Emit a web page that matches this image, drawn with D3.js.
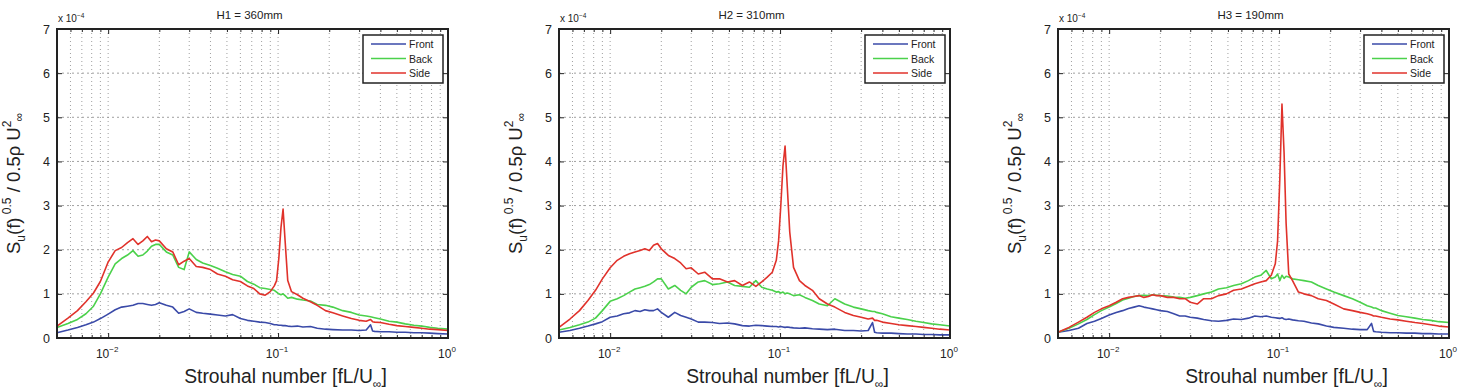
<!DOCTYPE html>
<html>
<head>
<meta charset="utf-8">
<script src="https://cdn.jsdelivr.net/npm/d3@7"></script>
<style>
body { margin: 0; background: #fff; }
text { font-family: "Liberation Sans", Arial, sans-serif; fill: #222; }
</style>
</head>
<body>
<div id="chart"></div>
<script>
// Strouhal number grid shared by all three panels
var strouhal = [0.005, 0.0058, 0.0066, 0.0074, 0.0082, 0.009, 0.01, 0.011, 0.012, 0.013,
    0.014, 0.015, 0.016, 0.017, 0.018, 0.019, 0.02, 0.022, 0.024, 0.026,
    0.028, 0.03, 0.033, 0.036, 0.04, 0.044, 0.049, 0.054, 0.06, 0.066,
    0.072, 0.078, 0.084, 0.09, 0.095, 0.098, 0.101, 0.104, 0.107, 0.110,
    0.114, 0.12, 0.13, 0.14, 0.155, 0.17, 0.19, 0.21, 0.24, 0.27,
    0.3, 0.33, 0.35, 0.36, 0.37, 0.4, 0.45, 0.5, 0.56, 0.63,
    0.7, 0.78, 0.87, 1.0];

// values in units of 1e-4
var h1Front = [0.12, 0.18, 0.24, 0.3, 0.36, 0.44, 0.54, 0.64, 0.7, 0.72,
    0.74, 0.78, 0.78, 0.76, 0.74, 0.76, 0.8, 0.74, 0.7, 0.56,
    0.6, 0.66, 0.58, 0.56, 0.54, 0.52, 0.5, 0.53, 0.44, 0.4,
    0.38, 0.36, 0.35, 0.33, 0.3, 0.3, 0.29, 0.29, 0.28, 0.28,
    0.27, 0.26, 0.27, 0.25, 0.26, 0.22, 0.2, 0.19, 0.18, 0.18,
    0.17, 0.18, 0.3, 0.16, 0.15, 0.14, 0.14, 0.13, 0.13, 0.12,
    0.12, 0.11, 0.1, 0.09];
var h1Back = [0.24, 0.33, 0.42, 0.55, 0.72, 1.0, 1.38, 1.68, 1.8, 1.88,
    1.98, 1.85, 1.88, 1.97, 2.08, 2.12, 2.12, 1.95, 1.88, 1.6,
    1.55, 1.95, 1.78, 1.7, 1.64, 1.58, 1.5, 1.44, 1.4, 1.28,
    1.22, 1.14, 1.12, 1.1, 1.08, 1.04, 1.0, 0.98, 1.0, 0.96,
    0.9, 0.92, 0.88, 0.86, 0.84, 0.76, 0.74, 0.7, 0.62, 0.58,
    0.52, 0.5, 0.48, 0.47, 0.46, 0.43, 0.38, 0.36, 0.32, 0.29,
    0.27, 0.24, 0.22, 0.2];
var h1Side = [0.27, 0.45, 0.62, 0.82, 1.02, 1.28, 1.72, 1.98, 2.05, 2.16,
    2.25, 2.12, 2.2, 2.3, 2.18, 2.22, 2.2, 2.02, 1.95, 1.66,
    1.74, 1.8, 1.62, 1.6, 1.55, 1.45, 1.4, 1.32, 1.28, 1.18,
    1.12, 1.0, 0.97, 1.05, 1.18, 1.3, 1.8, 2.5, 2.92, 2.2,
    1.3, 1.05, 0.98, 0.9, 0.82, 0.74, 0.62, 0.57, 0.5, 0.44,
    0.4, 0.38, 0.42, 0.37, 0.36, 0.35, 0.31, 0.28, 0.26, 0.24,
    0.22, 0.2, 0.19, 0.17];

var h2Front = [0.13, 0.17, 0.22, 0.27, 0.32, 0.37, 0.47, 0.5, 0.55, 0.57,
    0.62, 0.6, 0.64, 0.62, 0.62, 0.66, 0.58, 0.47, 0.58, 0.51,
    0.47, 0.43, 0.36, 0.36, 0.35, 0.33, 0.34, 0.32, 0.28, 0.27,
    0.29, 0.28, 0.27, 0.26, 0.26, 0.25, 0.26, 0.25, 0.24, 0.25,
    0.24, 0.23, 0.22, 0.23, 0.21, 0.2, 0.19, 0.2, 0.17, 0.17,
    0.16, 0.17, 0.35, 0.13, 0.12, 0.11, 0.11, 0.1, 0.09, 0.09,
    0.08, 0.08, 0.07, 0.07];
var h2Back = [0.18, 0.24, 0.3, 0.36, 0.45, 0.62, 0.83, 0.89, 0.96, 1.04,
    1.11, 1.14, 1.17, 1.21, 1.27, 1.34, 1.34, 1.11, 1.19, 1.08,
    1.0, 1.15, 1.27, 1.3, 1.21, 1.23, 1.27, 1.19, 1.17, 1.15,
    1.3, 1.15, 1.11, 1.08, 1.04, 1.05, 1.02, 1.04, 1.0, 1.02,
    1.0, 0.96, 0.98, 0.92, 0.85, 0.77, 0.73, 0.89, 0.77, 0.7,
    0.66, 0.62, 0.6, 0.6, 0.58, 0.55, 0.48, 0.45, 0.42, 0.38,
    0.35, 0.32, 0.3, 0.27];
var h2Side = [0.24, 0.43, 0.62, 0.85, 1.08, 1.34, 1.59, 1.76, 1.85, 1.91,
    1.95, 1.98, 2.02, 1.98, 2.1, 2.14, 2.02, 1.87, 1.8, 1.7,
    1.57, 1.59, 1.45, 1.49, 1.34, 1.34, 1.27, 1.3, 1.19, 1.27,
    1.17, 1.27, 1.38, 1.49, 1.76, 2.2, 3.0, 3.9, 4.35, 3.5,
    2.4, 1.6, 1.3, 1.19, 1.08, 0.89, 0.77, 0.7, 0.58, 0.51,
    0.47, 0.43, 0.45, 0.4, 0.4, 0.36, 0.33, 0.3, 0.28, 0.26,
    0.24, 0.22, 0.2, 0.18];

var h3Front = [0.13, 0.17, 0.22, 0.33, 0.38, 0.44, 0.52, 0.58, 0.62, 0.67,
    0.7, 0.73, 0.7, 0.68, 0.66, 0.64, 0.62, 0.6, 0.55, 0.5,
    0.5, 0.47, 0.45, 0.42, 0.39, 0.38, 0.4, 0.43, 0.42, 0.45,
    0.5, 0.48, 0.5, 0.47, 0.46, 0.45, 0.44, 0.46, 0.43, 0.42,
    0.43, 0.41, 0.39, 0.38, 0.34, 0.32, 0.27, 0.24, 0.22, 0.2,
    0.19, 0.19, 0.33, 0.15, 0.14, 0.13, 0.12, 0.12, 0.11, 0.11,
    0.1, 0.1, 0.09, 0.09];
var h3Back = [0.13, 0.22, 0.32, 0.42, 0.53, 0.62, 0.7, 0.78, 0.86, 0.9,
    0.94, 0.96, 0.97, 0.96, 0.98, 0.97, 0.96, 0.95, 0.93, 0.92,
    0.9, 0.92, 0.96, 1.0, 1.04, 1.11, 1.14, 1.19, 1.23, 1.3,
    1.38, 1.42, 1.53, 1.34, 1.38, 1.45, 1.3, 1.42, 1.35, 1.4,
    1.38, 1.34, 1.32, 1.3, 1.27, 1.19, 1.11, 1.04, 0.96, 0.89,
    0.81, 0.73, 0.7, 0.68, 0.68, 0.62, 0.56, 0.51, 0.48, 0.45,
    0.42, 0.4, 0.37, 0.35];
var h3Side = [0.13, 0.24, 0.36, 0.47, 0.58, 0.66, 0.73, 0.81, 0.89, 0.92,
    0.94, 0.96, 0.92, 0.94, 0.98, 0.96, 0.96, 0.92, 0.92, 0.89,
    0.89, 0.81, 0.77, 0.89, 0.89, 0.96, 1.0, 1.08, 1.11, 1.17,
    1.23, 1.27, 1.3, 1.42, 1.68, 2.2, 3.6, 5.3, 4.2, 2.6,
    1.45, 1.3, 1.04, 1.0, 0.96, 0.89, 0.85, 0.77, 0.66, 0.62,
    0.58, 0.55, 0.52, 0.5, 0.5, 0.47, 0.43, 0.41, 0.38, 0.35,
    0.33, 0.3, 0.27, 0.25];

var titles = ["H1 = 360mm", "H2 = 310mm", "H3 = 190mm"];
var seriesNames = ["Front", "Back", "Side"];
var colors = ["#3a4aa8", "#4bd14b", "#e0322b"];
var panels = [
    [h1Front, h1Back, h1Side],
    [h2Front, h2Back, h2Side],
    [h3Front, h3Back, h3Side]
];
var yTicks = [0, 1, 2, 3, 4, 5, 6, 7];
var xMajor = [0.01, 0.1, 1];
var xExp = ["\u22122", "\u22121", "0"];

var W = 1462, H = 391;
var panelLeft = [57, 559, 1058];
var pw = 391, ph = 309, marginTop = 29;

var svg = d3.select("#chart").append("svg")
    .attr("width", W)
    .attr("height", H);

var xMinor = [];
[0.001, 0.01, 0.1].forEach(function(d) {
    for (var k = 2; k <= 9; k++) {
        var v = d * k;
        if (v >= 0.005 && v < 1) xMinor.push(v);
    }
});

panels.forEach(function(series, p) {
    var x = d3.scaleLog().domain([0.005, 1]).range([0, pw]);
    var y = d3.scaleLinear().domain([0, 7]).range([ph, 0]);

    var g = svg.append("g")
        .attr("transform", "translate(" + panelLeft[p] + "," + marginTop + ")");

    // grid
    g.append("g").selectAll("line")
        .data(xMinor.concat([0.01, 0.1]))
        .enter().append("line")
        .attr("x1", function(d) { return x(d); })
        .attr("x2", function(d) { return x(d); })
        .attr("y1", 0).attr("y2", ph)
        .attr("stroke", "#888")
        .attr("stroke-width", 0.8)
        .attr("stroke-dasharray", "1,3");

    g.append("g").selectAll("line")
        .data([1, 2, 3, 4, 5, 6])
        .enter().append("line")
        .attr("x1", 0).attr("x2", pw)
        .attr("y1", function(d) { return y(d); })
        .attr("y2", function(d) { return y(d); })
        .attr("stroke", "#888")
        .attr("stroke-width", 0.8)
        .attr("stroke-dasharray", "2,3");

    // data lines
    var line = d3.line()
        .x(function(d, i) { return x(strouhal[i]); })
        .y(function(d) { return y(d); });

    g.selectAll(".series")
        .data(series)
        .enter().append("path")
        .attr("class", "series")
        .attr("d", line)
        .attr("fill", "none")
        .attr("stroke", function(d, i) { return colors[i]; })
        .attr("stroke-width", 1.6)
        .attr("stroke-linejoin", "round");

    // axes with inward ticks on all four sides
    var axes = [
        ["translate(0," + ph + ")", d3.axisBottom(x).tickValues(xMajor).tickSize(-5)],
        ["translate(0," + ph + ")", d3.axisBottom(x).tickValues(xMinor).tickSize(-3)],
        ["translate(0,0)", d3.axisTop(x).tickValues(xMajor).tickSize(-5)],
        ["translate(0,0)", d3.axisTop(x).tickValues(xMinor).tickSize(-3)],
        ["translate(0,0)", d3.axisLeft(y).tickValues(yTicks).tickSize(-5)],
        ["translate(" + pw + ",0)", d3.axisRight(y).tickValues(yTicks).tickSize(-5)]
    ];
    axes.forEach(function(a) {
        var ax = g.append("g")
            .attr("transform", a[0])
            .call(a[1].tickFormat("").tickSizeOuter(0));
        ax.select(".domain").remove();
        ax.selectAll("line").attr("stroke", "#222");
    });

    g.append("rect")
        .attr("x", 0).attr("y", 0)
        .attr("width", pw).attr("height", ph)
        .attr("fill", "none")
        .attr("stroke", "#222")
        .attr("stroke-width", 2);

    // y tick labels
    g.selectAll(".ylab")
        .data(yTicks)
        .enter().append("text")
        .attr("x", -7)
        .attr("y", function(d) { return y(d) + 4.5; })
        .attr("text-anchor", "end")
        .attr("font-size", 12.5)
        .text(function(d) { return d; });

    // x tick labels with exponent
    var xl = g.selectAll(".xlab")
        .data(xMajor)
        .enter().append("text")
        .attr("x", function(d) { return x(d) - 1; })
        .attr("y", ph + 20)
        .attr("text-anchor", "middle")
        .attr("font-size", 12);
    xl.append("tspan").text("10");
    xl.append("tspan")
        .attr("dy", -6)
        .attr("font-size", 8)
        .text(function(d, i) { return xExp[i]; });

    // scale factor
    var sf = g.append("text")
        .attr("x", 1).attr("y", -7)
        .attr("font-size", 10);
    sf.append("tspan").text("x 10");
    sf.append("tspan").attr("dy", -4).attr("font-size", 6.5).text("\u22124");

    // title
    g.append("text")
        .attr("x", pw / 2 - 3).attr("y", -10)
        .attr("text-anchor", "middle")
        .attr("font-size", 11.5)
        .text(titles[p]);

    // x label
    var xt = g.append("text")
        .attr("x", pw / 2 + 33).attr("y", ph + 45)
        .attr("text-anchor", "middle")
        .attr("font-size", 19.3);
    xt.append("tspan").text("Strouhal number [fL/U");
    xt.append("tspan").attr("dy", 5).attr("font-size", 12).text("\u221e");
    xt.append("tspan").attr("dy", -5).text("]");

    // y label
    var yt = g.append("text")
        .attr("transform", "translate(-37," + (ph / 2) + ") rotate(-90)")
        .attr("text-anchor", "middle")
        .attr("font-size", 18.5);
    yt.append("tspan").text("S");
    yt.append("tspan").attr("dy", 5).attr("font-size", 12).text("u");
    yt.append("tspan").attr("dy", -5).text("(f)");
    yt.append("tspan").attr("dy", -9).attr("font-size", 12).text(" 0.5");
    yt.append("tspan").attr("dy", 9).text(" / 0.5\u03c1 U");
    yt.append("tspan").attr("dy", -9).attr("font-size", 12).text("2");
    yt.append("tspan").attr("dy", 12).attr("dx", -1).attr("font-size", 12).text("\u221e");

    // legend
    var lg = g.append("g")
        .attr("transform", "translate(" + (pw - 85) + ",6)");
    lg.append("rect")
        .attr("width", 80).attr("height", 48)
        .attr("fill", "#fff")
        .attr("stroke", "#222")
        .attr("stroke-width", 1.5);
    seriesNames.forEach(function(name, i) {
        lg.append("line")
            .attr("x1", 8).attr("x2", 43)
            .attr("y1", 9 + i * 14.5).attr("y2", 9 + i * 14.5)
            .attr("stroke", colors[i])
            .attr("stroke-width", 1.5);
        lg.append("text")
            .attr("x", 46).attr("y", 13 + i * 14.5)
            .attr("font-size", 10.5)
            .text(name);
    });
});
</script>
</body>
</html>
